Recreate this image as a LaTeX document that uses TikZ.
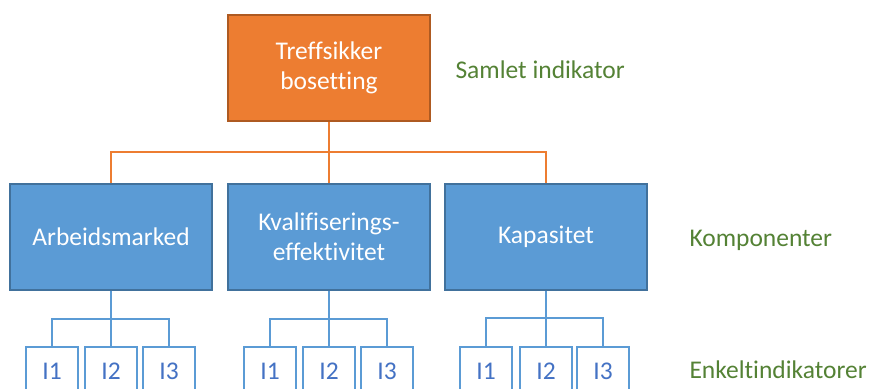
\documentclass[tikz,border=0pt]{standalone}
\usepackage{fontspec}
\setmainfont[Ligatures=NoCommon]{Carlito}
\definecolor{orgfill}{HTML}{ED7D31}
\definecolor{orgline}{HTML}{AE5A21}
\definecolor{bluefill}{HTML}{5B9BD5}
\definecolor{blueline}{HTML}{41719C}
\definecolor{indtext}{HTML}{4472C4}
\definecolor{lblgreen}{HTML}{548235}
\tikzset{
  boxfont/.style={font=\fontsize{25.5}{30}\selectfont},
  topbox/.style={rectangle, draw=orgline, line width=1.3pt, fill=orgfill, text=white,
    minimum width=202pt, minimum height=106pt, align=center, boxfont},
  compbox/.style={rectangle, draw=blueline, line width=1.3pt, fill=bluefill, text=white,
    minimum width=202pt, minimum height=106pt, align=center, boxfont},
  indbox/.style={rectangle, draw=bluefill, line width=1.6pt, fill=white, text=indtext,
    minimum width=52pt, minimum height=48pt, boxfont},
  lvl/.style={text=lblgreen, anchor=west, boxfont},
  orgconn/.style={draw=orgfill, line width=1.8pt},
  blueconn/.style={draw=bluefill, line width=2pt},
}
\begin{document}
\begin{tikzpicture}[x=1pt, y=-1pt]
\useasboundingbox (0,0) rectangle (872,388);
\clip (0,0) rectangle (872,388);
\fill[white] (0,0) rectangle (872,388);

% overall indicator
\node[topbox] (top) at (329,68) {Treffsikker\\bosetting};

% components
\node[compbox] (c1) at (111,237) {Arbeidsmarked};
\node[compbox] (c2) at (329,237) {Kvalifiserings-\\effektivitet};
\node[compbox] (c3) at (546,237) {Kapasitet};

% single indicators
\node[indbox] (a1) at (52,371) {I1};
\node[indbox] (a2) at (111,371) {I2};
\node[indbox] (a3) at (169,371) {I3};
\node[indbox] (b1) at (270,371) {I1};
\node[indbox] (b2) at (329,371) {I2};
\node[indbox] (b3) at (387,371) {I3};
\node[indbox] (d1) at (486,371) {I1};
\node[indbox] (d2) at (546,371) {I2};
\node[indbox] (d3) at (603,371) {I3};

% level labels
\node[lvl] (l1) at (452,70) {Samlet indikator};
\node[lvl] (l2) at (686,240) {Komponenter};
\node[lvl] (l3) at (686,370) {Enkeltindikatorer};

% connectors top -> components
\coordinate (ob) at (329,152);
\draw[orgconn] (top.south) -- (c2.north);
\draw[orgconn] (c1.north) |- (ob) -| (c3.north);

% connectors components -> indicators
\coordinate (ba) at (111,319);
\coordinate (bb) at (329,319);
\coordinate (bd) at (546,318);
\draw[blueconn] (c1.south) -- (a2.north);
\draw[blueconn] (a1.north) |- (ba) -| (a3.north);
\draw[blueconn] (c2.south) -- (b2.north);
\draw[blueconn] (b1.north) |- (bb) -| (b3.north);
\draw[blueconn, line width=2.6pt] (c3.south) -- (bd);
\draw[blueconn] (bd) -- (d2.north);
\draw[blueconn] (d1.north) |- (bd) -| (d3.north);
\end{tikzpicture}
\end{document}
